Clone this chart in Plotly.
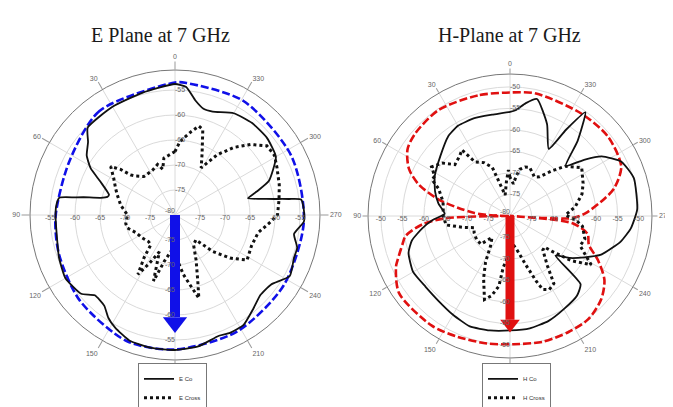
import plotly.graph_objects as go

# ---------------- data (theta in deg, value in dB) -------------
ang_ticks = [0, 30, 60, 90, 120, 150, 180, 210, 240, 270, 300, 330]
ang_labels = ["0", "30", "60", "90", "120", "150", "180", "210", "240", "270", "300", "330"]

e_rad_ticks = [-75, -70, -65, -60, -55]
h_rad_ticks = [-75, -70, -65, -60, -55, -50]

# E plane, co-polar (solid)
e_co_theta = [0, 15, 30, 45, 50, 56, 61, 66, 73, 75, 77, 79, 80, 81.5, 85, 90, 100, 110, 120, 130,
              135, 142, 147, 152, 160, 170, 180, 190, 200, 205, 212, 220, 227, 234, 242, 250, 255,
              261, 267, 272, 277, 278, 280, 283, 286, 290, 300, 310, 320, 330, 340, 345, 350, 355, 360]
e_co_r = [-53.8, -54.7, -55.0, -55.3, -57.3, -58.7, -60.7, -63.7, -66.2, -66.0, -64.7, -61.4, -59.7,
          -56.6, -56.2, -56.1, -56.0, -55.3, -54.7, -55.5, -57.3, -57.0, -55.5, -54.5, -53.3, -53.0,
          -53.0, -53.3, -54.3, -54.0, -54.1, -55.6, -56.6, -56.3, -54.0, -54.7, -54.7, -55.9, -54.2,
          -54.2, -54.6, -57.0, -61.5, -65.0, -63.0, -60.0, -56.7, -56.0, -56.0, -56.5, -58.0, -58.0,
          -56.7, -54.3, -53.8]

# E plane, cross-polar (dotted)
e_cx_theta = [0, 6, 11, 15, 19, 27, 39, 45, 48, 50, 53, 59, 66, 71, 80, 90, 100, 105, 115, 125, 135,
              141, 144, 148, 152, 157, 162, 167, 175, 184, 188, 192, 196, 199, 205, 212, 220, 226,
              232, 238, 248, 258, 266, 270, 278, 286, 295, 301, 307, 313, 319, 325, 331, 336, 342,
              345, 349, 356, 360]
e_cx_r = [-67.3, -68.0, -68.4, -70.5, -69.3, -70.0, -70.1, -69.0, -68.0, -65.8, -63.9, -65.7, -67.0,
          -67.8, -69.0, -70.5, -70.0, -70.1, -71.5, -72.0, -72.5, -72.3, -69.5, -66.0, -69.0, -72.0,
          -66.1, -70.5, -73.0, -70.5, -68.0, -65.8, -62.7, -66.0, -70.0, -73.0, -73.5, -69.5, -66.0,
          -63.0, -63.5, -63.0, -60.8, -59.5, -59.0, -58.3, -57.5, -56.8, -57.0, -59.3, -62.1, -65.3,
          -69.2, -66.7, -62.0, -61.6, -63.0, -65.2, -67.3]

# E plane, blue dashed outline
e_ref_theta = [0, 36, 63, 91, 109, 132, 159, 180, 208, 237, 267, 297, 329, 355, 360]
e_ref_r = [-53.5, -54.3, -56.3, -56.1, -55.5, -54.4, -53.0, -53.1, -53.6, -54.1, -54.2, -53.9,
           -53.4, -53.5, -53.5]

# H plane, co-polar (solid)
h_co_theta = [0, 10, 20, 30, 38, 49, 62, 72, 80, 88, 93, 98, 104, 110, 120, 130, 140, 150, 160, 170,
              180, 190, 200, 210, 220, 226, 229, 235, 241, 247, 257, 264, 273, 287, 296, 303, 307,
              312, 318, 324, 327, 330, 338, 347, 352, 357, 360]
h_co_r = [-55.8, -56.1, -55.8, -55.8, -56.6, -58.6, -60.2, -61.7, -63.1, -64.8, -62.0, -59.4, -56.5,
          -54.9, -54.0, -54.4, -54.2, -53.5, -52.7, -53.0, -53.4, -53.5, -54.0, -55.0, -55.8, -57.2,
          -66.0, -63.0, -60.2, -57.0, -53.6, -51.8, -50.4, -49.9, -51.2, -54.6, -58.2, -62.6, -56.5,
          -50.2, -56.1, -62.0, -57.0, -52.1, -53.5, -55.4, -55.8]

# H plane, cross-polar (dotted)
h_cx_theta = [0, 2, 6, 13, 17, 20, 26, 33, 36, 40, 47, 52, 58, 62, 65, 69, 78, 90, 98, 104, 108, 115,
              125, 134, 140, 147, 152, 157, 163, 167, 171, 172.5, 176, 182, 191, 198, 202, 204, 208,
              213, 217, 224, 228, 230, 234, 239, 247, 253, 262, 266, 271, 278, 287, 294, 304, 312,
              317, 323, 328, 338, 343, 348, 351, 354, 360]
h_cx_r = [-71.0, -69.3, -72.0, -75.0, -72.5, -68.0, -66.2, -65.0, -61.0, -61.8, -62.5, -60.0, -58.5,
          -60.2, -60.0, -62.2, -64.1, -64.5, -65.0, -69.0, -71.2, -70.8, -70.5, -70.6, -73.5, -71.7,
          -67.9, -64.3, -59.7, -61.0, -63.5, -68.0, -70.0, -74.0, -72.2, -68.0, -63.6, -61.3, -60.6,
          -61.3, -65.6, -69.0, -69.2, -67.2, -62.3, -58.0, -62.3, -61.8, -63.0, -64.5, -67.1, -64.7,
          -62.5, -61.4, -59.9, -62.7, -65.6, -68.6, -69.3, -67.8, -68.1, -68.9, -70.5, -72.5, -71.0]

# H plane, red dashed figure-eight outline
h_ref_theta = [0, 15, 34, 49, 57, 65, 71, 77, 81, 85, 88, 89.5, 90.5, 92, 95.5, 100.8, 104.6, 111.5,
               114, 124.8, 144.5, 156.7, 169.8, 181.5, 194.5, 206.8, 217.2, 227.6, 235.9, 243.3, 250,
               257, 263.5, 264.8, 265.2, 268, 272, 280.5, 285, 294, 309, 325, 348, 360]
h_ref_r = [-51.3, -51.0, -50.3, -50.8, -51.6, -54.1, -57.6, -63.0, -67.7, -71.5, -75.5, -80.0, -80.0,
           -65.0, -59.5, -55.3, -54.2, -51.9, -51.0, -48.6, -48.7, -49.4, -49.9, -50.2, -49.8, -49.8,
           -49.9, -51.3, -53.5, -57.1, -60.5, -61.5, -65.5, -80.0, -80.0, -65.6, -62.5, -57.6, -54.9,
           -51.7, -50.7, -51.0, -50.9, -51.3]

# arrows (shaft from centre, head value)
e_arrow_theta = [180, 180]
e_arrow_r = [-80, -59.6]
e_head_r = [-58.5]
h_arrow_theta = [180, 180]
h_arrow_r = [-80, -55.9]
h_head_r = [-54.9]

# ---------------- figure ----------------
FONT = "Liberation Sans"
fig = go.Figure()

def add_plane(sub, leg, co_t, co_r, cx_t, cx_r, ref_t, ref_r, ref_col, names,
              ar_t, ar_r, head_r, head_size, shaft_w, ticks):
    fig.add_trace(go.Scatterpolar(theta=ref_t, r=ref_r, mode="lines", subplot=sub, showlegend=False,
                                  line=dict(color=ref_col, width=2.6, dash="8px,3px", shape="spline",
                                            smoothing=0.8), hoverinfo="skip"))
    fig.add_trace(go.Scatterpolar(theta=co_t, r=co_r, mode="lines", subplot=sub, name=names[0],
                                  legend=leg,
                                  line=dict(color="#111111", width=1.8, shape="spline", smoothing=0.5)))
    fig.add_trace(go.Scatterpolar(theta=cx_t, r=cx_r, mode="lines", subplot=sub, name=names[1],
                                  legend=leg,
                                  line=dict(color="#111111", width=3, dash="3px,3px")))
    fig.add_trace(go.Scatterpolar(theta=ar_t, r=ar_r, mode="lines", subplot=sub, showlegend=False,
                                  line=dict(color=ref_col, width=shaft_w), hoverinfo="skip"))
    fig.add_trace(go.Scatterpolar(theta=[ar_t[0]], r=head_r, mode="markers", subplot=sub,
                                  showlegend=False, hoverinfo="skip",
                                  marker=dict(symbol="triangle-down", size=head_size, color=ref_col,
                                              line=dict(width=0))))
    # radial tick labels along the four main directions
    grey = dict(size=7, color="#666666", family=FONT)
    for ang, pos in [(0, "middle right"), (180, "middle left"), (90, "bottom center"),
                     (270, "bottom center")]:
        fig.add_trace(go.Scatterpolar(theta=[ang] * len(ticks), r=ticks, mode="text", subplot=sub,
                                      text=[str(t) for t in ticks], textposition=pos,
                                      textfont=grey, showlegend=False, hoverinfo="skip"))
    fig.add_trace(go.Scatterpolar(theta=[0], r=[-80], mode="text", subplot=sub, text=["-80"],
                                  textposition="top left", textfont=grey, showlegend=False,
                                  hoverinfo="skip"))

add_plane("polar", "legend", e_co_theta, e_co_r, e_cx_theta, e_cx_r, e_ref_theta, e_ref_r,
          "#1010e8", ["E Co", "E Cross"], e_arrow_theta, e_arrow_r, e_head_r, 21, 10, e_rad_ticks)
add_plane("polar2", "legend2", h_co_theta, h_co_r, h_cx_theta, h_cx_r, h_ref_theta, h_ref_r,
          "#e01010", ["H Co", "H Cross"], h_arrow_theta, h_arrow_r, h_head_r, 17, 9, h_rad_ticks)

def polar_layout(dx, dy, rmax, ticks, tlen):
    return dict(
        domain=dict(x=dx, y=dy),
        bgcolor="white",
        angularaxis=dict(rotation=90, direction="counterclockwise", tickmode="array",
                         tickvals=ang_ticks, ticktext=ang_labels,
                         tickfont=dict(size=7, color="#666666", family=FONT),
                         ticks="outside", ticklen=tlen, tickcolor="#999999",
                         showline=True, linecolor="#777777", linewidth=1,
                         gridcolor="#dadada", gridwidth=1),
        radialaxis=dict(range=[-80, rmax], tickmode="array", tickvals=ticks, showticklabels=False,
                        ticks="", showline=False, gridcolor="#dadada", gridwidth=1, angle=90),
    )

W, H = 673, 407
leg_style = dict(xanchor="left", yanchor="bottom", y=0.004, bgcolor="white",
                 bordercolor="#777777", borderwidth=1, itemwidth=30, tracegroupgap=0,
                 font=dict(size=6, color="#333333", family=FONT))
fig.update_layout(
    width=W, height=H, margin=dict(l=0, r=0, t=0, b=0),
    paper_bgcolor="white", plot_bgcolor="white",
    polar=polar_layout([22 / W, 312 / W], [55 / H, 345 / H], -51, e_rad_ticks, 8),
    polar2=polar_layout([360 / W, 644 / W], [57 / H, 341 / H], -47, h_rad_ticks, 5),
    legend=dict(x=130 / W, **leg_style),
    legend2=dict(x=474 / W, **leg_style),
    annotations=[
        dict(text="E Plane at 7 GHz", x=152 / W, y=1 - 27 / H, xref="paper", yref="paper",
             showarrow=False, xanchor="center", yanchor="middle",
             font=dict(family="Liberation Serif", size=20, color="#1a1a1a")),
        dict(text="H-Plane at 7 GHz", x=501 / W, y=1 - 27 / H, xref="paper", yref="paper",
             showarrow=False, xanchor="center", yanchor="middle",
             font=dict(family="Liberation Serif", size=20, color="#1a1a1a")),
    ],
)

fig.write_html("out.html")
